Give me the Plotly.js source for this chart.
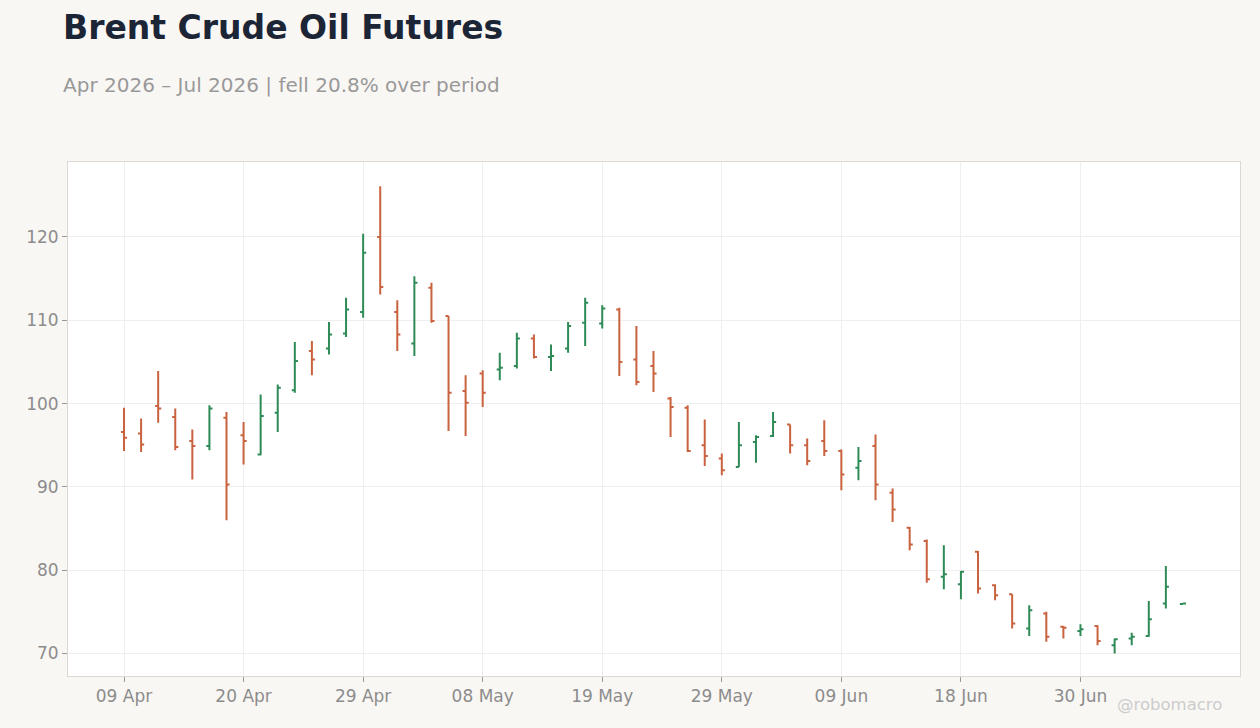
<!DOCTYPE html>
<html>
<head>
<meta charset="utf-8">
<script src="https://cdn.plot.ly/plotly-3.0.1.min.js"></script>
<style>
  html, body { margin: 0; padding: 0; background: #f9f7f4; }
  #chart { width: 1260px; height: 728px; }
</style>
</head>
<body>
<div id="chart"></div>
<script>
// trading days (weekends and US holidays skipped)
var dates = [
  '2026-04-09', '2026-04-10', '2026-04-13', '2026-04-14', '2026-04-15', '2026-04-16', '2026-04-17',
  '2026-04-20', '2026-04-21', '2026-04-22', '2026-04-23', '2026-04-24', '2026-04-27', '2026-04-28',
  '2026-04-29', '2026-04-30', '2026-05-01', '2026-05-04', '2026-05-05', '2026-05-06', '2026-05-07',
  '2026-05-08', '2026-05-11', '2026-05-12', '2026-05-13', '2026-05-14', '2026-05-15', '2026-05-18',
  '2026-05-19', '2026-05-20', '2026-05-21', '2026-05-22', '2026-05-26', '2026-05-27', '2026-05-28',
  '2026-05-29', '2026-06-01', '2026-06-02', '2026-06-03', '2026-06-04', '2026-06-05', '2026-06-08',
  '2026-06-09', '2026-06-10', '2026-06-11', '2026-06-12', '2026-06-15', '2026-06-16', '2026-06-17',
  '2026-06-18', '2026-06-22', '2026-06-23', '2026-06-24', '2026-06-25', '2026-06-26', '2026-06-29',
  '2026-06-30', '2026-07-01', '2026-07-02', '2026-07-06', '2026-07-07', '2026-07-08', '2026-07-09'
];

var open = [
  96.6, 96.4, 99.7, 98.4, 95.5, 94.9, 98.3, 96.2, 93.9, 98.9, 101.6, 106.3, 106.6, 108.4,
  111.0, 120.0, 111.0, 107.2, 113.9, 110.5, 101.5, 103.6, 104.1, 104.5, 107.8, 105.6, 106.6, 109.7,
  109.6, 111.3, 105.3, 104.5, 100.6, 99.5, 95.0, 93.4, 92.4, 95.4, 96.1, 97.5, 95.0, 95.5,
  94.3, 92.3, 94.9, 89.3, 85.1, 83.5, 79.2, 78.3, 82.2, 78.2, 77.1, 73.0, 74.8, 73.2,
  72.7, 73.3, 71.0, 71.8, 72.1, 76.0, 75.95
];
var high = [
  99.5, 98.2, 103.9, 99.4, 96.9, 99.8, 99.0, 97.8, 101.1, 102.3, 107.4, 107.5, 109.8, 112.7,
  120.4, 126.1, 112.4, 115.3, 114.5, 110.5, 103.4, 104.0, 106.1, 108.5, 108.3, 107.1, 109.8, 112.7,
  111.8, 111.5, 109.3, 106.3, 100.8, 99.8, 98.1, 94.0, 97.8, 96.2, 99.0, 97.5, 95.8, 98.0,
  94.5, 94.8, 96.3, 89.8, 85.2, 83.7, 83.0, 79.9, 82.3, 78.3, 77.1, 75.8, 75.0, 73.3,
  73.5, 73.4, 71.8, 72.5, 76.3, 80.5, 76.05
];
var low = [
  94.3, 94.2, 97.7, 94.4, 90.9, 94.4, 86.0, 92.7, 93.8, 96.6, 101.3, 103.4, 105.9, 108.0,
  110.3, 113.1, 106.3, 105.7, 109.7, 96.7, 96.1, 99.6, 102.8, 104.2, 105.4, 103.9, 106.1, 106.9,
  109.0, 103.3, 102.2, 101.4, 96.0, 94.2, 92.5, 91.4, 92.4, 92.9, 96.0, 94.0, 92.6, 93.7,
  89.6, 90.8, 88.4, 85.8, 82.4, 78.5, 77.7, 76.5, 77.2, 76.4, 73.0, 72.1, 71.4, 71.8,
  72.1, 71.0, 70.0, 71.0, 72.0, 75.4, 75.95
];
var close = [
  95.9, 95.1, 99.4, 94.8, 94.9, 99.4, 90.3, 95.5, 98.5, 101.9, 105.1, 105.3, 108.3, 111.3,
  118.1, 114.0, 108.3, 114.5, 109.9, 101.3, 100.1, 101.3, 104.3, 107.8, 105.6, 105.7, 109.3, 112.1,
  111.4, 105.0, 102.6, 103.6, 99.6, 94.3, 93.7, 92.0, 95.0, 96.0, 97.8, 95.0, 93.1, 94.3,
  91.5, 93.1, 90.3, 87.3, 83.1, 78.9, 79.5, 79.8, 77.8, 77.0, 73.6, 75.2, 72.0, 73.1,
  72.9, 71.5, 71.7, 72.0, 74.1, 78.0, 76.0
];

var holidays = ['2026-05-25', '2026-06-19', '2026-07-03'];
var tickDates = ['2026-04-09', '2026-04-20', '2026-04-29', '2026-05-08', '2026-05-19',
                 '2026-05-29', '2026-06-09', '2026-06-18', '2026-06-30'];
var yTicks = [70, 80, 90, 100, 110, 120];

var trace = {
  type: 'ohlc',
  x: dates,
  open: open,
  high: high,
  low: low,
  close: close,
  tickwidth: 0.18,
  increasing: { line: { color: '#2e8b57', width: 2 } },
  decreasing: { line: { color: '#c9623f', width: 2 } },
  showlegend: false,
  hoverinfo: 'x+text'
};

var layout = {
  paper_bgcolor: '#f9f7f4',
  plot_bgcolor: '#ffffff',
  margin: { l: 68, r: 20, t: 162, b: 52 },
  font: { family: 'DejaVu Sans, sans-serif', color: '#8c8c8c', size: 17 },
  showlegend: false,
  xaxis: {
    type: 'date',
    rangeslider: { visible: false },
    rangebreaks: [
      { bounds: ['sat', 'mon'] },
      { values: holidays }
    ],
    range: ['2026-04-03 17:17', '2026-07-14 08:10'],
    tickvals: tickDates,
    tickformat: '%d %b',
    ticks: 'outside',
    ticklen: 5,
    tickcolor: '#999999',
    tickfont: { size: 17, color: '#8c8c8c' },
    showgrid: true,
    gridcolor: '#efefef',
    showline: true,
    linecolor: '#ddd8d2',
    mirror: true,
    zeroline: false
  },
  yaxis: {
    range: [67.3, 129.0],
    tickvals: yTicks,
    ticks: 'outside',
    ticklen: 5,
    tickcolor: '#999999',
    tickfont: { size: 17, color: '#8c8c8c' },
    showgrid: true,
    gridcolor: '#efefef',
    showline: true,
    linecolor: '#ddd8d2',
    mirror: true,
    zeroline: false
  },
  annotations: [
    {
      text: '<b>Brent Crude Oil Futures</b>',
      xref: 'paper', yref: 'paper',
      x: -0.006, y: 1.261,
      xanchor: 'left', yanchor: 'middle',
      showarrow: false,
      font: { size: 33, color: '#1c2536', family: 'DejaVu Sans, sans-serif' }
    },
    {
      text: 'Apr 2026 – Jul 2026 | fell 20.8% over period',
      xref: 'paper', yref: 'paper',
      x: -0.006, y: 1.150,
      xanchor: 'left', yanchor: 'middle',
      showarrow: false,
      font: { size: 20, color: '#999999', family: 'DejaVu Sans, sans-serif' }
    },
    {
      text: '@robomacro',
      xref: 'paper', yref: 'paper',
      x: 0.986, y: -0.056,
      xanchor: 'right', yanchor: 'middle',
      showarrow: false,
      font: { size: 16.5, color: '#cccccc', family: 'DejaVu Sans, sans-serif' }
    }
  ]
};

Plotly.newPlot('chart', [trace], layout, { displayModeBar: false });
</script>
</body>
</html>
